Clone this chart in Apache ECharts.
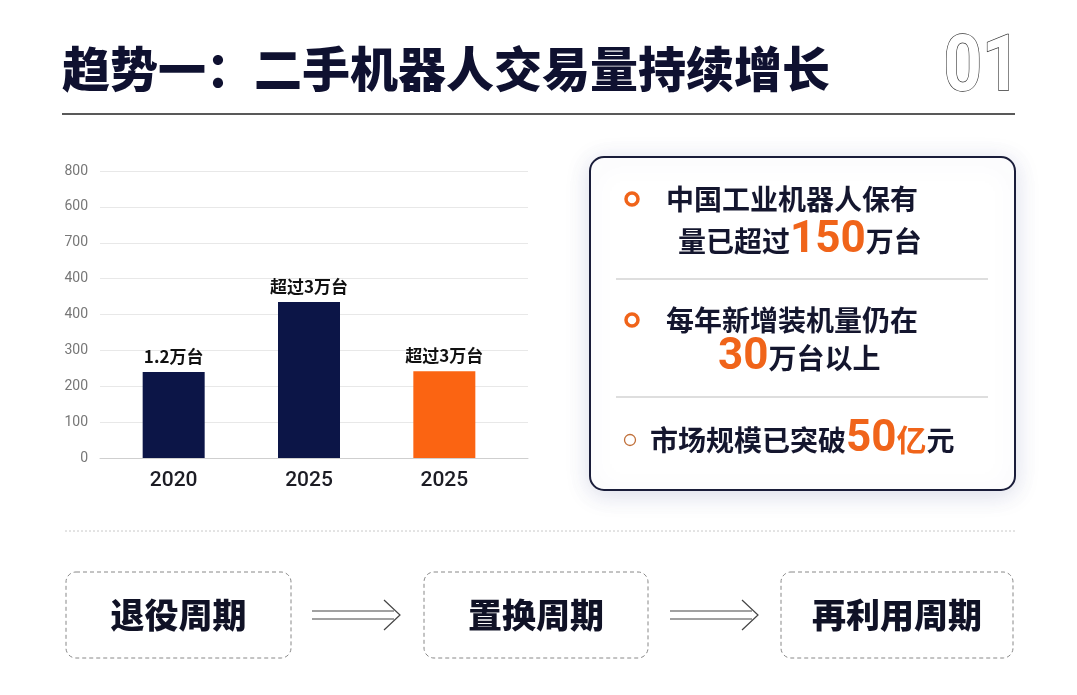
<!DOCTYPE html>
<html><head><meta charset="utf-8">
<script src="https://cdn.jsdelivr.net/npm/echarts@6/dist/echarts.min.js"></script>
<style>html,body{margin:0;padding:0;background:#fff}#c{width:1077px;height:695px}</style>
</head><body><div id="c"></div>
<script>
const categories = ['2020', '2025', '2025'];
const values = [240, 435, 242];
const barLabels = ['1.2万台', '超过3万台', '超过3万台'];
const barColors = ['#0c1547', '#0c1547', '#fb6412'];
const yTickLabels = ['0', '100', '200', '300', '400', '400', '700', '600', '800'];
const title = '趋势一：二手机器人交易量持续增长';
const steps = ['退役周期', '置换周期', '再利用周期'];

const CJK = '"Noto Sans CJK SC", "Noto Sans", sans-serif';
const NUM = 'Roboto, "Liberation Sans", sans-serif';
const DARK = '#14162e';
const ORANGE = '#f0641a';

const chart = echarts.init(document.getElementById('c'));

const graphics = [];
// title
graphics.push({type:'text', x:62, y:69, style:{text:title, font:'900 48px ' + CJK, fill:'#0f1130', textVerticalAlign:'middle'}});
graphics.push({type:'text', x:982, y:70, scaleX:0.86, style:{text:'01', font:'bold 78px ' + NUM, fill:'#fff', stroke:'#333', lineWidth:1.4, textAlign:'center', textVerticalAlign:'middle'}});
graphics.push({type:'line', shape:{x1:62,y1:114,x2:1015,y2:114}, style:{stroke:'#222', lineWidth:1.5}});

// right panel
graphics.push({type:'rect', shape:{x:590,y:157,width:425,height:333,r:14}, style:{fill:'#fff', stroke:'#1a1d3a', lineWidth:2, shadowBlur:24, shadowColor:'rgba(60,70,140,0.18)', shadowOffsetY:4}});
graphics.push({type:'line', shape:{x1:616,y1:279,x2:988,y2:279}, style:{stroke:'#bdbdbd', lineWidth:1}});
graphics.push({type:'line', shape:{x1:616,y1:397,x2:988,y2:397}, style:{stroke:'#bdbdbd', lineWidth:1}});
graphics.push({type:'circle', shape:{cx:632,cy:199,r:6}, style:{fill:'none', stroke:ORANGE, lineWidth:3.5}});
graphics.push({type:'circle', shape:{cx:632,cy:320,r:6}, style:{fill:'none', stroke:ORANGE, lineWidth:3.5}});
graphics.push({type:'circle', shape:{cx:630,cy:440,r:5.5}, style:{fill:'none', stroke:'#c0703a', lineWidth:1.3}});

const rich = {
  a:{font:'bold 28px ' + CJK, fill:DARK},
  b:{font:'bold 44px ' + NUM, fill:ORANGE},
  c:{font:'bold 30px ' + CJK, fill:ORANGE}
};
function rtext(x, y, text){
  graphics.push({type:'text', x:x, y:y, style:{text:text, rich:rich, textVerticalAlign:'middle', fill:DARK}});
}
rtext(666, 199, '{a|中国工业机器人保有}');
rtext(678, 241, '{a|量已超过}{b|150}{a|万台}');
rtext(666, 320, '{a|每年新增装机量仍在}');
rtext(718, 358, '{b|30}{a|万台以上}');
rtext(650, 440, '{a|市场规模已突破}{b|50}{c|亿}{a|元}');

// bottom
graphics.push({type:'line', shape:{x1:65,y1:531,x2:1015,y2:531}, style:{stroke:'#c8c8c8', lineWidth:1, lineDash:[2,2]}});
const boxes = [[66,225],[424,224],[781,232]];
boxes.forEach((b,i)=>{
  graphics.push({type:'rect', shape:{x:b[0],y:572,width:b[1],height:86,r:10}, style:{fill:'#fff', stroke:'#888', lineWidth:1, lineDash:[4,3]}});
  graphics.push({type:'text', x:b[0]+b[1]/2, y:615, style:{text:steps[i], font:'900 34px ' + CJK, fill:'#101226', textAlign:'center', textVerticalAlign:'middle'}});
});
[[312,400],[670,758]].forEach(a=>{
  graphics.push({type:'line', shape:{x1:a[0],y1:611,x2:a[1]-6,y2:611}, style:{stroke:'#444', lineWidth:1.2}});
  graphics.push({type:'line', shape:{x1:a[0],y1:619,x2:a[1]-6,y2:619}, style:{stroke:'#444', lineWidth:1.2}});
  graphics.push({type:'polyline', shape:{points:[[a[1]-16,600],[a[1],615],[a[1]-16,630]]}, style:{stroke:'#444', lineWidth:1.2, fill:'none'}});
});

chart.setOption({
  backgroundColor:'#fff',
  animation:false,
  grid:[
    {left:100, width:428, top:171, height:287},
    {left:106, width:406, top:171, height:287}
  ],
  xAxis:[
    {type:'category', gridIndex:0, data:[''], axisLine:{lineStyle:{color:'#cfcfcf'}}, axisTick:{show:false}, axisLabel:{show:false}},
    {type:'category', gridIndex:1, data:categories, axisLine:{show:false}, axisTick:{show:false},
     axisLabel:{color:'#1c1c24', fontSize:21, fontWeight:500, fontFamily:NUM, margin:12}}
  ],
  yAxis:[
    {type:'value', gridIndex:0, min:0, max:800, interval:100,
     axisLabel:{color:'#777', fontSize:14, fontFamily:NUM, margin:12, formatter:(v)=>yTickLabels[Math.round(v/100)]},
     splitLine:{lineStyle:{color:'#e8e8e8'}}, axisLine:{show:false}, axisTick:{show:false}},
    {type:'value', gridIndex:1, min:0, max:800, interval:100, show:false, splitLine:{show:false}}
  ],
  series:[{
    type:'bar', xAxisIndex:1, yAxisIndex:1, barWidth:62,
    data: values.map((v,i)=>({value:v, itemStyle:{color:barColors[i]}})),
    label:{show:true, position:'top', distance:7, fontSize:17, fontWeight:'bold', color:'#111', fontFamily:CJK,
      formatter:(p)=>barLabels[p.dataIndex]}
  }],
  graphic: graphics
});
</script></body></html>
